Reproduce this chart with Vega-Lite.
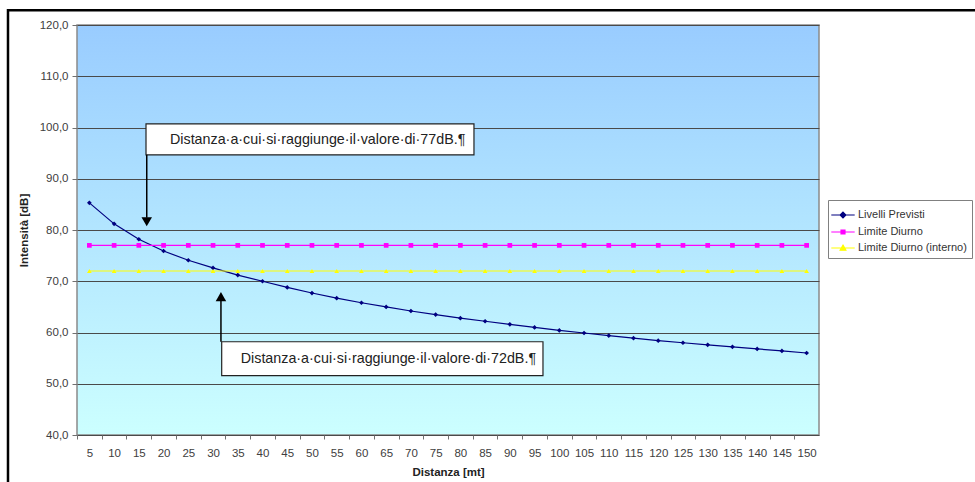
{
  "$schema": "https://vega.github.io/schema/vega-lite/v6.json",
  "width": 742,
  "height": 410,
  "autosize": {"type": "none"},
  "padding": {"left": 77, "top": 25, "right": 156, "bottom": 47},
  "background": "white",
  "config": {
    "font": "Liberation Sans",
    "view": {
      "fill": {"gradient": "linear", "x1": 0, "y1": 0, "x2": 0, "y2": 1, "stops": [{"offset": 0, "color": "#99CCFF"}, {"offset": 1, "color": "#CCFFFF"}]},
      "stroke": "#8a8a8a",
      "strokeWidth": 1.5
    },
    "legend": {
      "strokeColor": "#808080",
      "fillColor": "white",
      "padding": 5,
      "rowPadding": 1,
      "labelFontSize": 11,
      "labelColor": "#333333",
      "labelOffset": 5,
      "labelLimit": 300,
      "symbolSize": 324
    }
  },
  "datasets": {
    "series": [
      {"d": 5, "v": 85.3, "s": "Livelli Previsti"},
      {"d": 10, "v": 81.2, "s": "Livelli Previsti"},
      {"d": 15, "v": 78.2, "s": "Livelli Previsti"},
      {"d": 20, "v": 75.9, "s": "Livelli Previsti"},
      {"d": 25, "v": 74.1, "s": "Livelli Previsti"},
      {"d": 30, "v": 72.6, "s": "Livelli Previsti"},
      {"d": 35, "v": 71.2, "s": "Livelli Previsti"},
      {"d": 40, "v": 70.0, "s": "Livelli Previsti"},
      {"d": 45, "v": 68.8, "s": "Livelli Previsti"},
      {"d": 50, "v": 67.7, "s": "Livelli Previsti"},
      {"d": 55, "v": 66.7, "s": "Livelli Previsti"},
      {"d": 60, "v": 65.8, "s": "Livelli Previsti"},
      {"d": 65, "v": 65.0, "s": "Livelli Previsti"},
      {"d": 70, "v": 64.2, "s": "Livelli Previsti"},
      {"d": 75, "v": 63.5, "s": "Livelli Previsti"},
      {"d": 80, "v": 62.8, "s": "Livelli Previsti"},
      {"d": 85, "v": 62.2, "s": "Livelli Previsti"},
      {"d": 90, "v": 61.6, "s": "Livelli Previsti"},
      {"d": 95, "v": 61.0, "s": "Livelli Previsti"},
      {"d": 100, "v": 60.4, "s": "Livelli Previsti"},
      {"d": 105, "v": 59.9, "s": "Livelli Previsti"},
      {"d": 110, "v": 59.4, "s": "Livelli Previsti"},
      {"d": 115, "v": 58.9, "s": "Livelli Previsti"},
      {"d": 120, "v": 58.4, "s": "Livelli Previsti"},
      {"d": 125, "v": 58.0, "s": "Livelli Previsti"},
      {"d": 130, "v": 57.6, "s": "Livelli Previsti"},
      {"d": 135, "v": 57.2, "s": "Livelli Previsti"},
      {"d": 140, "v": 56.8, "s": "Livelli Previsti"},
      {"d": 145, "v": 56.4, "s": "Livelli Previsti"},
      {"d": 150, "v": 56.0, "s": "Livelli Previsti"},
      {"d": 5, "v": 77, "s": "Limite Diurno"},
      {"d": 10, "v": 77, "s": "Limite Diurno"},
      {"d": 15, "v": 77, "s": "Limite Diurno"},
      {"d": 20, "v": 77, "s": "Limite Diurno"},
      {"d": 25, "v": 77, "s": "Limite Diurno"},
      {"d": 30, "v": 77, "s": "Limite Diurno"},
      {"d": 35, "v": 77, "s": "Limite Diurno"},
      {"d": 40, "v": 77, "s": "Limite Diurno"},
      {"d": 45, "v": 77, "s": "Limite Diurno"},
      {"d": 50, "v": 77, "s": "Limite Diurno"},
      {"d": 55, "v": 77, "s": "Limite Diurno"},
      {"d": 60, "v": 77, "s": "Limite Diurno"},
      {"d": 65, "v": 77, "s": "Limite Diurno"},
      {"d": 70, "v": 77, "s": "Limite Diurno"},
      {"d": 75, "v": 77, "s": "Limite Diurno"},
      {"d": 80, "v": 77, "s": "Limite Diurno"},
      {"d": 85, "v": 77, "s": "Limite Diurno"},
      {"d": 90, "v": 77, "s": "Limite Diurno"},
      {"d": 95, "v": 77, "s": "Limite Diurno"},
      {"d": 100, "v": 77, "s": "Limite Diurno"},
      {"d": 105, "v": 77, "s": "Limite Diurno"},
      {"d": 110, "v": 77, "s": "Limite Diurno"},
      {"d": 115, "v": 77, "s": "Limite Diurno"},
      {"d": 120, "v": 77, "s": "Limite Diurno"},
      {"d": 125, "v": 77, "s": "Limite Diurno"},
      {"d": 130, "v": 77, "s": "Limite Diurno"},
      {"d": 135, "v": 77, "s": "Limite Diurno"},
      {"d": 140, "v": 77, "s": "Limite Diurno"},
      {"d": 145, "v": 77, "s": "Limite Diurno"},
      {"d": 150, "v": 77, "s": "Limite Diurno"},
      {"d": 5, "v": 72, "s": "Limite Diurno (interno)"},
      {"d": 10, "v": 72, "s": "Limite Diurno (interno)"},
      {"d": 15, "v": 72, "s": "Limite Diurno (interno)"},
      {"d": 20, "v": 72, "s": "Limite Diurno (interno)"},
      {"d": 25, "v": 72, "s": "Limite Diurno (interno)"},
      {"d": 30, "v": 72, "s": "Limite Diurno (interno)"},
      {"d": 35, "v": 72, "s": "Limite Diurno (interno)"},
      {"d": 40, "v": 72, "s": "Limite Diurno (interno)"},
      {"d": 45, "v": 72, "s": "Limite Diurno (interno)"},
      {"d": 50, "v": 72, "s": "Limite Diurno (interno)"},
      {"d": 55, "v": 72, "s": "Limite Diurno (interno)"},
      {"d": 60, "v": 72, "s": "Limite Diurno (interno)"},
      {"d": 65, "v": 72, "s": "Limite Diurno (interno)"},
      {"d": 70, "v": 72, "s": "Limite Diurno (interno)"},
      {"d": 75, "v": 72, "s": "Limite Diurno (interno)"},
      {"d": 80, "v": 72, "s": "Limite Diurno (interno)"},
      {"d": 85, "v": 72, "s": "Limite Diurno (interno)"},
      {"d": 90, "v": 72, "s": "Limite Diurno (interno)"},
      {"d": 95, "v": 72, "s": "Limite Diurno (interno)"},
      {"d": 100, "v": 72, "s": "Limite Diurno (interno)"},
      {"d": 105, "v": 72, "s": "Limite Diurno (interno)"},
      {"d": 110, "v": 72, "s": "Limite Diurno (interno)"},
      {"d": 115, "v": 72, "s": "Limite Diurno (interno)"},
      {"d": 120, "v": 72, "s": "Limite Diurno (interno)"},
      {"d": 125, "v": 72, "s": "Limite Diurno (interno)"},
      {"d": 130, "v": 72, "s": "Limite Diurno (interno)"},
      {"d": 135, "v": 72, "s": "Limite Diurno (interno)"},
      {"d": 140, "v": 72, "s": "Limite Diurno (interno)"},
      {"d": 145, "v": 72, "s": "Limite Diurno (interno)"},
      {"d": 150, "v": 72, "s": "Limite Diurno (interno)"}
    ],
    "frame": [{"x1": -11.45, "x2": 200, "y1": 122.9, "y2": 20}],
    "boxes": [
      {"x1": 16.45, "x2": 82.75, "y1": 94.66, "y2": 100.7, "tx": 21.3, "ty": 97.6, "label": "Distanza·a·cui·si·raggiunge·il·valore·di·77dB.¶"},
      {"x1": 31.75, "x2": 96.7, "y1": 51.6, "y2": 58.2, "tx": 35.6, "ty": 54.9, "label": "Distanza·a·cui·si·raggiunge·il·valore·di·72dB.¶"}
    ],
    "arrows": [
      {"x": 16.6, "y1": 94.66, "y2": 82.4, "hy": 81.6, "dir": "down"},
      {"x": 31.6, "y1": 58.2, "y2": 66.2, "hy": 67.0, "dir": "up"}
    ]
  },
  "layer": [
    {
      "data": {"name": "series"},
      "mark": {"type": "line", "strokeWidth": 1.2},
      "encoding": {
        "x": {
          "field": "d", "type": "quantitative",
          "scale": {"domain": [2.5, 152.5], "nice": false, "zero": false},
          "axis": {
            "title": "Distanza [mt]",
            "values": [5, 10, 15, 20, 25, 30, 35, 40, 45, 50, 55, 60, 65, 70, 75, 80, 85, 90, 95, 100, 105, 110, 115, 120, 125, 130, 135, 140, 145, 150],
            "tickCount": 60,
            "format": "d",
            "grid": false,
            "domain": false,
            "tickOffset": -12.37,
            "labelOffset": 12.37,
            "tickSize": 4,
            "tickColor": "#707070",
            "labelFontSize": 11.5,
            "labelColor": "#404040",
            "labelPadding": 8,
            "labelFlush": false,
            "labelOverlap": false,
            "titleFontSize": 11.5,
            "titleFontWeight": "bold",
            "titleColor": "#222222",
            "titlePadding": 8
          }
        },
        "y": {
          "field": "v", "type": "quantitative",
          "scale": {"domain": [40, 120], "nice": false, "zero": false},
          "axis": {
            "title": "Intensità [dB]",
            "values": [40, 50, 60, 70, 80, 90, 100, 110, 120],
            "tickCount": 20,
            "labelExpr": "replace(format(datum.value, '.1f'), '.', ',')",
            "grid": true,
            "gridColor": "#4a4a4a",
            "gridWidth": 1,
            "domain": false,
            "tickSize": 5,
            "tickColor": "#707070",
            "labelFontSize": 11.5,
            "labelColor": "#404040",
            "labelPadding": 4,
            "labelFlush": false,
            "titleFontSize": 11.5,
            "titleFontWeight": "bold",
            "titleColor": "#222222",
            "titlePadding": 10
          }
        },
        "color": {
          "field": "s", "type": "nominal",
          "scale": {"domain": ["Livelli Previsti", "Limite Diurno", "Limite Diurno (interno)"], "range": ["#000080", "#FF00FF", "#FFFF00"]},
          "legend": {
            "title": null,
            "orient": "none",
            "legendX": 751,
            "legendY": 175,
            "encode": {
              "symbols": {
                "update": {
                  "shape": {"signal": "datum.value === 'Livelli Previsti' ? 'M-1.3,0H1.3M0,-0.32L0.32,0L0,0.32L-0.32,0Z' : datum.value === 'Limite Diurno' ? 'M-1.3,0H1.3M-0.22,-0.22H0.22V0.22H-0.22Z' : 'M-1.3,0H1.3M0,-0.32L0.32,0.25H-0.32Z'"},
                  "fill": {"scale": "color", "field": "value"},
                  "stroke": {"scale": "color", "field": "value"},
                  "strokeWidth": {"value": 1.2}
                }
              }
            }
          }
        }
      }
    },
    {
      "data": {"name": "series"},
      "mark": {"type": "point", "filled": true, "size": 22, "opacity": 1},
      "encoding": {
        "x": {"field": "d", "type": "quantitative"},
        "y": {"field": "v", "type": "quantitative"},
        "color": {"field": "s", "type": "nominal"},
        "shape": {
          "field": "s", "type": "nominal",
          "scale": {"domain": ["Livelli Previsti", "Limite Diurno", "Limite Diurno (interno)"], "range": ["diamond", "square", "triangle-up"]},
          "legend": null
        }
      }
    },
    {
      "data": {"name": "boxes"},
      "mark": {"type": "rect", "fill": "white", "stroke": "#222222", "strokeWidth": 1.2},
      "encoding": {
        "x": {"field": "x1", "type": "quantitative"},
        "x2": {"field": "x2"},
        "y": {"field": "y1", "type": "quantitative"},
        "y2": {"field": "y2"}
      }
    },
    {
      "data": {"name": "boxes"},
      "mark": {"type": "text", "align": "left", "baseline": "middle", "fontSize": 14.3, "color": "#222222", "font": "Liberation Sans"},
      "encoding": {
        "x": {"field": "tx", "type": "quantitative"},
        "y": {"field": "ty", "type": "quantitative"},
        "text": {"field": "label"}
      }
    },
    {
      "data": {"name": "arrows"},
      "mark": {"type": "rule", "color": "black", "strokeWidth": 1.5},
      "encoding": {
        "x": {"field": "x", "type": "quantitative"},
        "y": {"field": "y1", "type": "quantitative"},
        "y2": {"field": "y2"}
      }
    },
    {
      "data": {"name": "arrows"},
      "mark": {"type": "point", "filled": true, "color": "black", "size": 110, "opacity": 1},
      "encoding": {
        "x": {"field": "x", "type": "quantitative"},
        "y": {"field": "hy", "type": "quantitative"},
        "shape": {"field": "dir", "type": "nominal", "scale": {"domain": ["down", "up"], "range": ["triangle-down", "triangle-up"]}, "legend": null}
      }
    },
    {
      "data": {"name": "frame"},
      "mark": {"type": "rect", "filled": false, "stroke": "black", "strokeWidth": 2.5, "clip": false},
      "encoding": {
        "x": {"field": "x1", "type": "quantitative"},
        "x2": {"field": "x2"},
        "y": {"field": "y1", "type": "quantitative"},
        "y2": {"field": "y2"}
      }
    }
  ],
  "resolve": {"scale": {"shape": "independent"}}
}
